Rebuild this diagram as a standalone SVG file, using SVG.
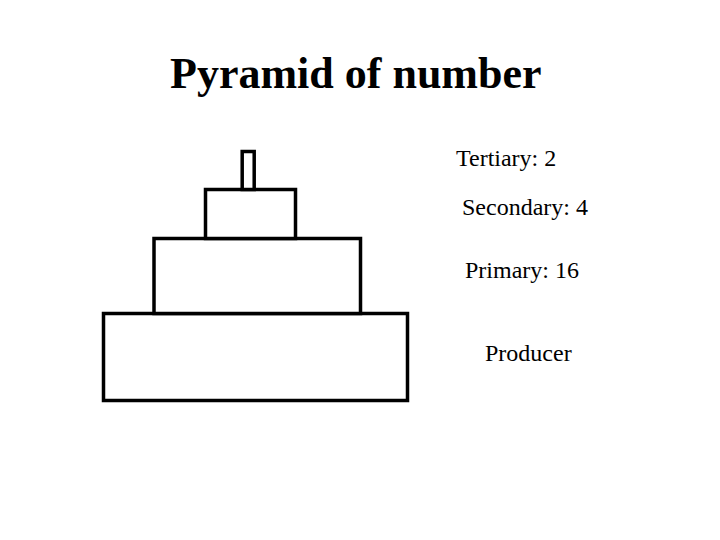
<svg xmlns="http://www.w3.org/2000/svg" width="720" height="540" viewBox="0 0 720 540">
<style>
.lvl{fill:#fff;stroke:#000;stroke-width:3.5}
.lbl{font-family:"Liberation Serif","Times New Roman",serif;font-size:24px;fill:#000}
.title{font-family:"Liberation Serif","Times New Roman",serif;font-size:44px;font-weight:bold;fill:#000}
</style>
<rect width="720" height="540" fill="#fff"/>
<text class="title" x="170" y="88">Pyramid of number</text>
<g id="producer"><rect class="lvl" x="103.5" y="313.5" width="304" height="87"/></g>
<g id="primary"><rect class="lvl" x="154" y="238.5" width="206.5" height="75"/></g>
<g id="secondary"><rect class="lvl" x="205.5" y="189.5" width="90" height="49"/></g>
<g id="tertiary"><rect class="lvl" x="242.2" y="151.5" width="12" height="38"/></g>
<g id="connectors"></g>
<text class="lbl" x="456" y="165.5">Tertiary: 2</text>
<text class="lbl" x="462" y="215">Secondary: 4</text>
<text class="lbl" x="465" y="278">Primary: 16</text>
<text class="lbl" x="485" y="361">Producer</text>
</svg>
